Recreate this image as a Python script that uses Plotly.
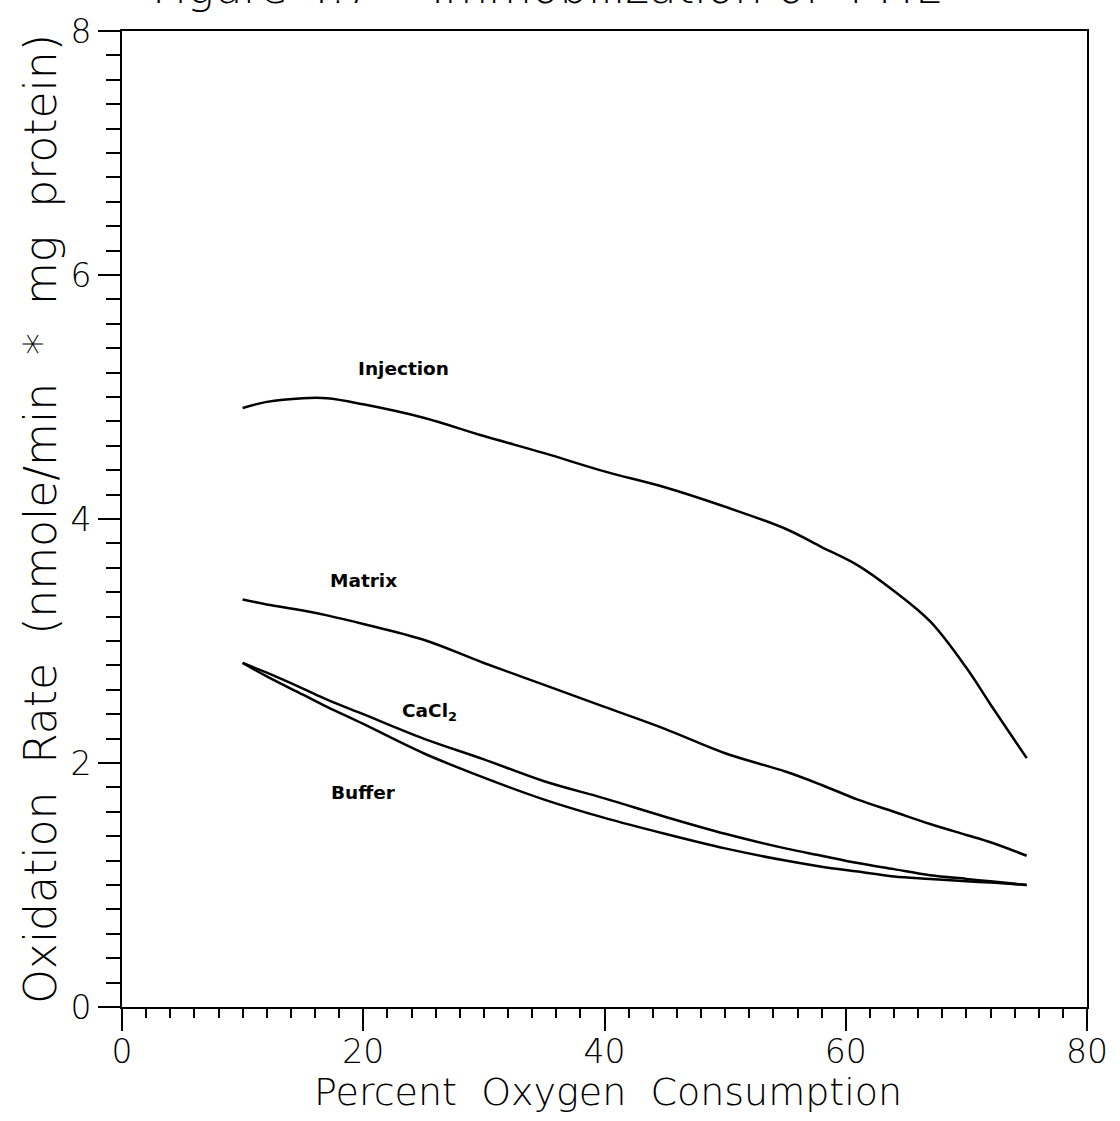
import plotly.graph_objects as go

pct_o2 = [10, 12, 15, 17, 20, 25, 30, 35, 40, 45, 50, 55, 58, 61, 64, 67, 70, 72, 75]
injection = [4.91, 4.96, 4.99, 4.99, 4.94, 4.83, 4.68, 4.54, 4.39, 4.26, 4.10, 3.92, 3.77, 3.62, 3.41, 3.16, 2.78, 2.48, 2.04]
matrix = [3.34, 3.30, 3.25, 3.21, 3.14, 3.01, 2.82, 2.64, 2.46, 2.28, 2.08, 1.93, 1.82, 1.70, 1.60, 1.50, 1.41, 1.35, 1.24]
cacl2 = [2.82, 2.74, 2.61, 2.52, 2.40, 2.20, 2.03, 1.85, 1.71, 1.56, 1.42, 1.30, 1.24, 1.18, 1.13, 1.08, 1.05, 1.03, 1.00]
buffer = [2.82, 2.71, 2.56, 2.46, 2.32, 2.08, 1.88, 1.70, 1.55, 1.42, 1.30, 1.20, 1.15, 1.11, 1.07, 1.05, 1.03, 1.02, 1.00]

series_names = ["Injection", "Matrix", "CaCl<sub>2</sub>", "Buffer"]
label_x = [23.3, 20.0, 25.5, 20.0]
label_y = [5.23, 3.50, 2.42, 1.76]

title_text = "Figure 4.7&nbsp;&nbsp;&nbsp;&nbsp;Immobilization&nbsp;of&nbsp;&nbsp;PME"
x_title = "Percent  Oxygen  Consumption"
y_title = "Oxidation  Rate  (nmole/min  *  mg  protein)"

fig = go.Figure()
for ys in [injection, matrix, cacl2, buffer]:
    fig.add_trace(go.Scatter(x=pct_o2, y=ys, mode="lines",
                             line=dict(color="black", width=2.5, shape="spline"),
                             showlegend=False, hoverinfo="skip"))

for name, lx, ly in zip(series_names, label_x, label_y):
    fig.add_annotation(x=lx, y=ly, text=name, showarrow=False,
                       font=dict(family="DejaVu Sans", size=18.5, color="black", weight="bold"))

axis_font = dict(family="DejaVu Sans", size=33, color="black", weight=200)

fig.add_annotation(xref="paper", yref="paper", x=(150 - 122) / 972, y=1.0,
                   yanchor="bottom", xanchor="left",
                   yshift=15, text=title_text, showarrow=False,
                   font=dict(family="DejaVu Sans", size=45, color="black", weight=200))

fig.add_annotation(xref="paper", yref="paper", x=(612 - 122) / 972, y=(1007 - 1092) / 980,
                   xanchor="center", yanchor="middle", text=x_title, showarrow=False,
                   font=dict(family="DejaVu Sans", size=38, color="black", weight=200))

fig.update_layout(
    width=1120, height=1121,
    margin=dict(l=122, r=26, t=27, b=114),
    paper_bgcolor="white", plot_bgcolor="white",
    xaxis=dict(range=[0, 80], dtick=20, tick0=0, showgrid=False, zeroline=False,
               showline=True, linecolor="black", linewidth=2, mirror=True,
               ticks="outside", ticklen=22, tickwidth=2, tickcolor="black",
               tickfont=axis_font, ticklabelstandoff=-8,
               minor=dict(dtick=2, ticks="outside", ticklen=9, tickwidth=2, tickcolor="black")),
    yaxis=dict(range=[0, 8], dtick=2, tick0=0, showgrid=False, zeroline=False,
               showline=True, linecolor="black", linewidth=2, mirror=True,
               ticks="outside", ticklen=22, tickwidth=2, tickcolor="black",
               tickfont=axis_font,
               minor=dict(dtick=0.2, ticks="outside", ticklen=14, tickwidth=2, tickcolor="black"),
               title=dict(text=y_title, font=dict(family="DejaVu Sans", size=44, color="black", weight=200),
                          standoff=0)),
)

fig.write_html("out.html")
